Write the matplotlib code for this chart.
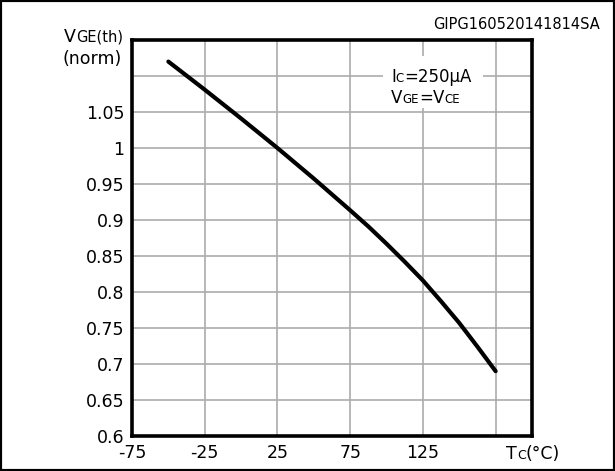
import matplotlib
matplotlib.use("Agg")
import matplotlib.pyplot as plt
from matplotlib.patches import Rectangle

plt.rcParams['font.family'] = ['DejaVu Sans']

# Normalised gate threshold voltage vs case temperature
temp_c = [-50, -25, 0, 25, 50, 75, 87.5, 100, 112.5, 125, 137.5, 150, 162.5, 175]
vge_th_norm = [1.12, 1.081, 1.041, 1.0, 0.9575, 0.9135, 0.891, 0.867, 0.842,
               0.816, 0.787, 0.757, 0.724, 0.69]

x_ticks = [-75, -25, 25, 75, 125, 175]
x_tick_labels = ['-75', '-25', '25', '75', '125', '']
y_ticks = [0.6, 0.65, 0.7, 0.75, 0.8, 0.85, 0.9, 0.95, 1.0, 1.05, 1.1]
y_tick_labels = ['0.6', '0.65', '0.7', '0.75', '0.8', '0.85', '0.9', '0.95',
                 '1', '1.05', '']

W, H = 615, 471
fig = plt.figure(figsize=(W / 100, H / 100), dpi=100)
ax = fig.add_axes([132 / W, 1 - 436 / H, 400 / W, 396 / H])

ax.plot(temp_c, vge_th_norm, color='black', lw=3, solid_capstyle='round',
        solid_joinstyle='round', zorder=4)

ax.set_xlim(-75, 200)
ax.set_ylim(0.6, 1.15)
ax.set_xticks(x_ticks)
ax.set_xticklabels(x_tick_labels)
ax.set_yticks(y_ticks)
ax.set_yticklabels(y_tick_labels)
ax.tick_params(length=0, labelsize=12.5)
ax.tick_params(axis='x', pad=6)
ax.tick_params(axis='y', pad=5.5)
ax.grid(True, color='#ababab', lw=1.2)
ax.set_axisbelow(True)
for sp in ax.spines.values():
    sp.set_linewidth(2.6)
    sp.set_zorder(5)

# white patch behind the condition text
ax.add_patch(Rectangle((0.6275, 0.828), 0.25, 0.132, transform=ax.transAxes,
                       facecolor='white', edgecolor='none', zorder=2))

renderer = fig.canvas.get_renderer()


def mixed_text(x_px, y_px, parts, ha='left'):
    # parts: (string, fontsize); drawn on a common baseline, pixel coords from top-left
    widths = []
    for s, size in parts:
        t = fig.text(0, 0, s, fontsize=size)
        widths.append(t.get_window_extent(renderer).width)
        t.remove()
    x = x_px - sum(widths) if ha == 'right' else x_px
    for (s, size), w in zip(parts, widths):
        fig.text(x / W, 1 - y_px / H, s, fontsize=size, va='baseline', ha='left')
        x += w


mixed_text(123, 42, [('V', 12.5), ('GE(th)', 10.5)], ha='right')
mixed_text(122, 64, [('(norm)', 12.5)], ha='right')
mixed_text(391, 82, [('I', 12), ('C', 8.5), ('=250µA', 12)])
mixed_text(391, 103, [('V', 12), ('GE', 8.5), ('=', 12), ('V', 12), ('CE', 8.5)])
mixed_text(506, 459, [('T', 12.5), ('C', 9), ('(°C)', 12.5)])
mixed_text(600, 29, [('GIPG160520141814SA', 10.5)], ha='right')

# outer frame
fig.add_artist(Rectangle((0, 0), 1, 1, transform=fig.transFigure, fill=False,
                         edgecolor='black', lw=3))

fig.savefig('out.png', dpi=100)
